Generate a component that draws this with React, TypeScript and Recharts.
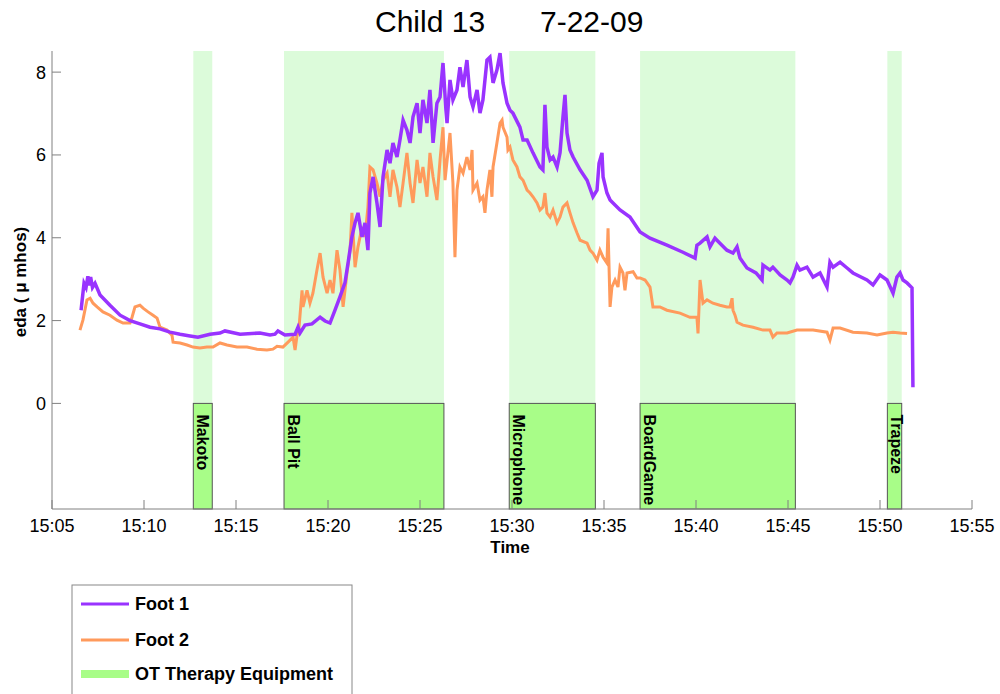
import React from 'react';
import { LineChart, Line, XAxis, YAxis, ReferenceArea } from 'recharts';

// time in minutes after 15:00
const foot1Time = [6.58,6.74,6.85,6.95,7.01,7.1,7.2,7.34,7.61,8.15,8.7,9.24,9.78,10.33,10.87,11.41,11.96,12.5,12.93,13.59,14.13,14.4,15.22,16.3,16.85,17.12,17.28,17.66,18.21,18.37,18.48,18.75,19.13,19.57,19.84,20.11,20.38,20.65,20.92,21.09,21.3,21.47,21.63,21.85,22.01,22.17,22.28,22.45,22.66,22.83,22.99,23.21,23.37,23.53,23.75,23.91,24.08,24.29,24.46,24.62,24.84,25.0,25.16,25.38,25.54,25.71,25.92,26.09,26.25,26.41,26.47,26.63,26.79,27.01,27.17,27.34,27.55,27.72,27.88,28.1,28.26,28.42,28.64,28.8,28.97,29.18,29.35,29.51,29.73,29.89,30.05,30.43,30.6,30.82,31.14,31.52,31.68,31.79,31.9,32.07,32.23,32.45,32.61,32.77,32.88,32.99,33.15,33.32,33.7,34.08,34.4,34.62,34.73,34.89,34.95,35.16,35.33,35.49,35.87,36.41,36.96,37.5,38.42,39.29,39.95,40.05,40.22,40.6,40.76,41.03,41.3,41.68,42.01,42.23,42.39,42.77,43.26,43.59,43.64,44.02,44.18,44.57,44.95,45.11,45.27,45.49,45.65,46.03,46.36,46.74,47.12,47.28,47.45,47.83,48.21,48.53,49.29,49.62,50.0,50.38,50.71,50.92,51.09,51.25,51.47,51.74,51.79];
const foot1Eda = [2.25,2.9,2.8,3.07,2.85,3.05,2.8,2.9,2.62,2.37,2.13,2.0,1.92,1.84,1.8,1.72,1.67,1.63,1.6,1.67,1.7,1.75,1.67,1.7,1.65,1.67,1.75,1.65,1.67,1.84,1.7,1.89,1.92,2.08,1.99,1.94,2.25,2.57,2.91,3.39,4.02,4.36,4.6,4.02,4.36,3.7,5.08,5.47,4.84,4.26,5.47,6.12,5.8,6.29,5.95,6.36,6.84,6.6,6.29,6.92,7.25,6.53,7.33,6.77,7.57,6.29,7.25,7.4,8.22,7.08,6.77,7.81,7.33,7.57,8.12,7.64,8.29,7.4,7.16,7.57,7.01,7.33,8.29,8.36,7.74,8.05,8.46,7.74,7.25,7.08,7.01,6.67,6.36,6.36,6.05,5.71,5.64,7.21,6.19,5.88,5.95,5.71,6.05,6.92,7.45,6.53,6.12,5.95,5.64,5.39,4.99,5.15,5.8,6.05,5.47,5.08,4.91,4.84,4.67,4.5,4.14,3.99,3.82,3.65,3.51,3.82,3.87,4.02,3.78,3.99,3.87,3.7,3.63,3.78,3.51,3.27,3.15,2.98,3.34,3.22,3.29,3.1,2.98,2.91,3.05,3.34,3.22,3.29,3.05,3.15,2.81,3.41,3.29,3.41,3.27,3.15,2.98,2.86,3.1,2.98,2.66,3.05,3.15,2.98,2.91,2.79,0.39];

const foot2Time = [6.52,6.68,6.9,7.07,7.23,7.45,7.77,8.15,8.53,8.86,9.24,9.35,9.51,9.78,9.95,10.22,10.49,10.71,10.87,11.25,11.52,11.58,11.96,12.34,12.66,13.04,13.42,13.75,14.13,14.51,15.05,15.6,16.14,16.68,17.01,17.23,17.55,17.83,18.1,18.21,18.32,18.4,18.59,18.64,18.86,19.02,19.18,19.4,19.57,19.73,19.95,20.11,20.27,20.49,20.65,20.82,21.03,21.2,21.3,21.47,21.63,21.85,22.01,22.17,22.28,22.45,22.66,22.83,22.99,23.21,23.37,23.53,23.75,23.91,24.08,24.29,24.46,24.62,24.84,25.0,25.16,25.38,25.54,25.71,25.92,26.09,26.25,26.36,26.63,26.79,26.9,27.01,27.17,27.34,27.55,27.72,27.83,27.88,28.1,28.26,28.42,28.53,28.64,28.8,28.91,28.97,29.18,29.35,29.46,29.51,29.73,29.78,29.89,30.05,30.27,30.43,30.6,30.82,30.98,31.14,31.36,31.52,31.68,31.79,31.9,32.07,32.23,32.45,32.61,32.77,32.99,33.15,33.32,33.53,33.7,34.08,34.24,34.4,34.62,34.78,34.95,35.16,35.22,35.33,35.43,35.6,35.76,35.87,36.03,36.14,36.25,36.58,36.79,36.96,37.23,37.5,37.66,38.04,38.42,39.13,39.67,40.05,40.11,40.22,40.38,40.6,40.92,41.3,41.68,41.85,41.96,42.01,42.12,42.23,42.55,43.1,43.64,44.02,44.18,44.4,44.95,45.49,46.36,47.12,47.28,47.45,47.83,48.53,49.29,49.84,50.38,50.71,51.09,51.47];
const foot2Eda = [1.77,2.01,2.5,2.54,2.42,2.33,2.21,2.13,2.01,1.94,1.94,2.08,2.33,2.37,2.3,2.21,2.13,2.06,1.84,1.77,1.65,1.48,1.46,1.41,1.36,1.34,1.36,1.36,1.46,1.41,1.36,1.36,1.31,1.29,1.31,1.38,1.36,1.48,1.6,1.29,1.65,1.7,2.73,2.33,2.73,2.42,2.66,3.22,3.63,3.05,2.66,2.98,2.66,3.7,3.22,2.33,3.15,3.7,4.6,3.29,3.78,4.26,4.02,4.74,5.71,5.64,5.32,4.99,5.39,5.56,4.99,5.64,5.22,4.74,5.32,6.05,5.32,4.84,5.88,5.32,5.71,4.99,6.05,5.47,4.91,5.88,6.67,5.39,6.53,5.32,3.53,5.15,5.71,5.56,5.95,5.64,6.12,5.15,5.32,4.91,4.99,4.6,5.15,5.64,4.99,5.71,6.29,6.77,6.84,6.67,6.43,6.12,6.19,5.88,5.71,5.47,5.39,5.15,5.08,4.99,4.84,4.67,4.74,5.08,4.6,4.5,4.67,4.36,4.5,4.74,4.84,4.6,4.36,4.12,3.94,3.87,3.7,3.63,3.46,3.7,3.53,3.39,4.23,2.33,2.81,2.98,2.81,3.29,3.15,2.73,3.15,3.18,3.03,3.03,2.98,2.81,2.33,2.33,2.25,2.18,2.08,2.08,1.69,2.98,2.42,2.5,2.42,2.37,2.33,2.33,2.54,2.25,2.13,1.96,1.89,1.84,1.77,1.77,1.6,1.7,1.7,1.77,1.77,1.72,1.53,1.82,1.82,1.72,1.7,1.65,1.7,1.72,1.7,1.69];

const bandNames = ['Makoto', 'Ball Pit', 'Microphone', 'BoardGame', 'Trapeze'];
const bandStart = [12.68, 17.61, 29.85, 36.96, 50.4];
const bandEnd = [13.71, 26.3, 34.53, 45.4, 51.18];

const xTicks = [5, 10, 15, 20, 25, 30, 35, 40, 45, 50, 55];
const yTicks = [0, 2, 4, 6, 8];
const Y_MIN = -2.55;
const Y_MAX = 8.51;

const foot1 = foot1Time.map((t, i) => ({ t, v: foot1Eda[i] }));
const foot2 = foot2Time.map((t, i) => ({ t, v: foot2Eda[i] }));

const PURPLE = '#9933ff';
const ORANGE = '#ff9a5c';
const LIGHT_GREEN = '#dcfbda';
const GREEN = '#a8fd88';
const AXIS = '#808080';
const FONT = '"Liberation Sans", Arial, sans-serif';

const fmt = (m: number) => `15:${m < 10 ? '0' + m : m}`;

const makeShape = (name: string) => (props: any) => {
  const { x, y, width, height } = props;
  const tx = x + 4;
  const ty = y + 11;
  return (
    <g>
      <rect x={x} y={y} width={width} height={height} fill={GREEN} stroke="#555" strokeWidth={1} />
      <text x={tx} y={ty} transform={`rotate(90, ${tx}, ${ty})`} fontFamily={FONT} fontSize={16} fontWeight="bold" fill="#000">
        {name}
      </text>
    </g>
  );
};

export default function App() {
  return (
    <div style={{ position: 'absolute', left: 0, top: 0, width: 1000, height: 694, background: '#fff', overflow: 'hidden' }}>
      <LineChart width={1000} height={694} margin={{ top: 51, right: 28, bottom: 145, left: 12 }}>
        <XAxis
          type="number"
          dataKey="t"
          domain={[5, 55]}
          ticks={xTicks}
          tickFormatter={fmt}
          allowDataOverflow
          height={40}
          stroke={AXIS}
          tickSize={-9}
          tickMargin={19}
          tick={{ fontSize: 18, fill: '#000', fontFamily: FONT }}
          interval={0}
        />
        <YAxis
          type="number"
          domain={[Y_MIN, Y_MAX]}
          ticks={yTicks}
          allowDataOverflow
          width={40}
          stroke={AXIS}
          tickSize={-9}
          tickMargin={15}
          tick={{ fontSize: 18, fill: '#000', fontFamily: FONT }}
          interval={0}
        />
        {bandNames.map((n, i) => (
          <ReferenceArea key={'l' + n} x1={bandStart[i]} x2={bandEnd[i]} y1={0} y2={Y_MAX} fill={LIGHT_GREEN} fillOpacity={1} stroke="none" ifOverflow="hidden" />
        ))}
        {bandNames.map((n, i) => (
          <ReferenceArea key={'s' + n} x1={bandStart[i]} x2={bandEnd[i]} y1={Y_MIN} y2={0} ifOverflow="hidden" shape={makeShape(n)} />
        ))}
        <Line data={foot2} dataKey="v" type="linear" stroke={ORANGE} strokeWidth={3} dot={false} isAnimationActive={false} />
        <Line data={foot1} dataKey="v" type="linear" stroke={PURPLE} strokeWidth={3.5} dot={false} isAnimationActive={false} />
      </LineChart>
      <svg width={1000} height={694} style={{ position: 'absolute', left: 0, top: 0, pointerEvents: 'none' }}>
        <text x={375} y={32} fontFamily={FONT} fontSize={30} fill="#000">Child 13</text>
        <text x={540} y={32} fontFamily={FONT} fontSize={30} fill="#000">7-22-09</text>
        <text x={510} y={553} textAnchor="middle" fontFamily={FONT} fontSize={17} fontWeight="bold" fill="#000">Time</text>
        <text x={26} y={282} textAnchor="middle" transform="rotate(-90, 26, 282)" fontFamily={FONT} fontSize={17} fontWeight="bold" fill="#000">eda ( μ mhos)</text>
        <rect x={72} y={585} width={280} height={120} fill="#fff" stroke="#888" strokeWidth={1} />
        <line x1={81} x2={129} y1={604} y2={604} stroke={PURPLE} strokeWidth={3} />
        <line x1={81} x2={129} y1={640} y2={640} stroke={ORANGE} strokeWidth={3} />
        <line x1={81} x2={129} y1={674} y2={674} stroke={GREEN} strokeWidth={8} />
        <text x={135} y={610} fontFamily={FONT} fontSize={18} fontWeight="bold" fill="#000">Foot 1</text>
        <text x={135} y={646} fontFamily={FONT} fontSize={18} fontWeight="bold" fill="#000">Foot 2</text>
        <text x={135} y={680} fontFamily={FONT} fontSize={18} fontWeight="bold" fill="#000">OT Therapy Equipment</text>
      </svg>
    </div>
  );
}
